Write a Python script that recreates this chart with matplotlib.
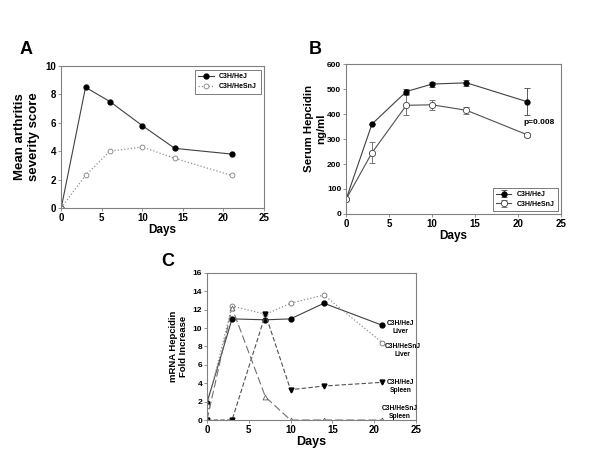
import matplotlib
matplotlib.use("Agg")
import matplotlib.pyplot as plt

plt.rcParams["font.family"] = ["Liberation Sans", "DejaVu Sans"]
plt.rcParams["font.weight"] = "bold"

# panel A: arthritis score
days_a = [0, 3, 6, 10, 14, 21]
score_hej = [0, 8.5, 7.5, 5.8, 4.2, 3.8]
score_hesnj = [0, 2.3, 4.0, 4.3, 3.5, 2.3]

# panel B: serum hepcidin
days_b = [0, 3, 7, 10, 14, 21]
hep_hej = [60, 360, 490, 520, 525, 450]
hep_hej_err = [0, 0, 10, 10, 12, 55]
hep_hesnj = [60, 245, 435, 437, 415, 318]
hep_hesnj_err = [0, 42, 40, 20, 15, 8]

# panel C: mRNA fold increase
days_c = [0, 3, 7, 10, 14, 21]
liver_hej = [1.9, 11.0, 10.9, 11.0, 12.7, 10.3]
liver_hesnj = [1.5, 12.4, 11.5, 12.7, 13.6, 8.4]
spleen_hej = [0, 0, 11.5, 3.3, 3.7, 4.1]
spleen_hesnj = [0, 12.2, 2.5, 0, 0, 0]

GRAY = "#808080"


def style(ax):
    for s in ax.spines.values():
        s.set_color(GRAY)
        s.set_linewidth(0.8)
    ax.tick_params(direction="out", length=2.5, width=0.6, color=GRAY,
                   labelsize=7, pad=1)
    for lab in ax.get_xticklabels() + ax.get_yticklabels():
        lab.set_fontweight("bold")


fig = plt.figure(figsize=(6, 4.67), dpi=100)

# --- A ---
ax = fig.add_axes([0.102, 0.5546, 0.338, 0.304])
ax.plot(days_a, score_hej, "-", color="#404040", lw=0.8, marker="o",
        ms=3.5, mfc="black", mec="black", label="C3H/HeJ")
ax.plot(days_a, score_hesnj, ":", color="#909090", lw=0.9, marker="o",
        ms=3.5, mfc="white", mec="#808080", mew=0.6, label="C3H/HeSnJ")
ax.set_xlim(0, 25)
ax.set_ylim(0, 10)
ax.set_xticks([0, 5, 10, 15, 20, 25])
ax.set_yticks([0, 2, 4, 6, 8, 10])
style(ax)
ax.set_xlabel("Days", fontsize=8.5, fontweight="bold", labelpad=1)
ax.set_ylabel("Mean arthritis\nseverity score", fontsize=9.5,
              fontweight="bold", labelpad=4)
leg = ax.legend(loc="upper right", fontsize=5, frameon=True, fancybox=False,
                edgecolor="#404040", handlelength=2.2, borderpad=0.5,
                labelspacing=0.5)
leg.get_frame().set_linewidth(0.6)
fig.text(0.033, 0.893, "A", fontsize=13, fontweight="bold", va="center")

# --- B ---
ax = fig.add_axes([0.577, 0.5418, 0.358, 0.321])
ax.errorbar(days_b, hep_hej, yerr=hep_hej_err, fmt="-o", color="#404040",
            lw=0.8, ms=3.5, mfc="black", mec="black", ecolor="#404040",
            elinewidth=0.6, capsize=2, capthick=0.6, label="C3H/HeJ")
ax.errorbar(days_b, hep_hesnj, yerr=hep_hesnj_err, fmt="-o", color="#505050",
            lw=0.8, ms=4.5, mfc="white", mec="#404040", mew=0.6,
            ecolor="#606060", elinewidth=0.6, capsize=2, capthick=0.6,
            label="C3H/HeSnJ")
ax.text(20.6, 368, "p=0.008", fontsize=6, fontweight="bold", ha="left",
        va="center")
ax.set_xlim(0, 25)
ax.set_ylim(0, 600)
ax.set_xticks([0, 5, 10, 15, 20, 25])
ax.set_yticks(range(0, 601, 100))
style(ax)
ax.tick_params(axis="y", labelsize=6)
ax.set_xlabel("Days", fontsize=8.5, fontweight="bold", labelpad=1)
ax.set_ylabel("Serum Hepcidin\nng/ml", fontsize=8.2, fontweight="bold")
ax.yaxis.set_label_coords(-0.095, 0.57)
leg = ax.legend(loc="lower right", fontsize=5, frameon=True, fancybox=False,
                edgecolor="#404040", handlelength=2.2, borderpad=0.4,
                labelspacing=0.4)
leg.get_frame().set_linewidth(0.6)
fig.text(0.515, 0.893, "B", fontsize=13, fontweight="bold", va="center")

# --- C ---
ax = fig.add_axes([0.345, 0.1006, 0.348, 0.315])
ax.plot(days_c, liver_hej, "-", color="#404040", lw=0.8, marker="o",
        ms=3.5, mfc="black", mec="black")
ax.plot(days_c, liver_hesnj, ":", color="#909090", lw=0.9, marker="o",
        ms=3.5, mfc="white", mec="#707070", mew=0.6)
ax.plot(days_c, spleen_hej, "--", color="#505050", lw=0.8, marker="v",
        ms=3.5, mfc="black", mec="black", dashes=(4, 2))
ax.plot(days_c, spleen_hesnj, "--", color="#707070", lw=0.8, marker="^",
        ms=3.5, mfc="white", mec="#606060", mew=0.6, dashes=(7, 3))
labels_c = [("C3H/HeJ\nLiver", 21.5, 10.1), ("C3H/HeSnJ\nLiver", 21.3, 7.6),
            ("C3H/HeJ\nSpleen", 21.5, 3.6), ("C3H/HeSnJ\nSpleen", 20.9, 0.8)]
for txt, x, y in labels_c:
    ax.text(x, y, txt, fontsize=4.8, fontweight="bold", ha="left",
            va="center", multialignment="center")
ax.set_xlim(0, 25)
ax.set_ylim(0, 16)
ax.set_xticks([0, 5, 10, 15, 20, 25])
ax.set_yticks(range(0, 17, 2))
style(ax)
ax.tick_params(axis="y", labelsize=6)
ax.set_xlabel("Days", fontsize=9, fontweight="bold", labelpad=1)
ax.set_ylabel("mRNA Hepcidin\nFold Increase", fontsize=6.8,
              fontweight="bold", labelpad=3)
fig.text(0.268, 0.44, "C", fontsize=13, fontweight="bold", va="center")

fig.savefig("out.png", dpi=100)
